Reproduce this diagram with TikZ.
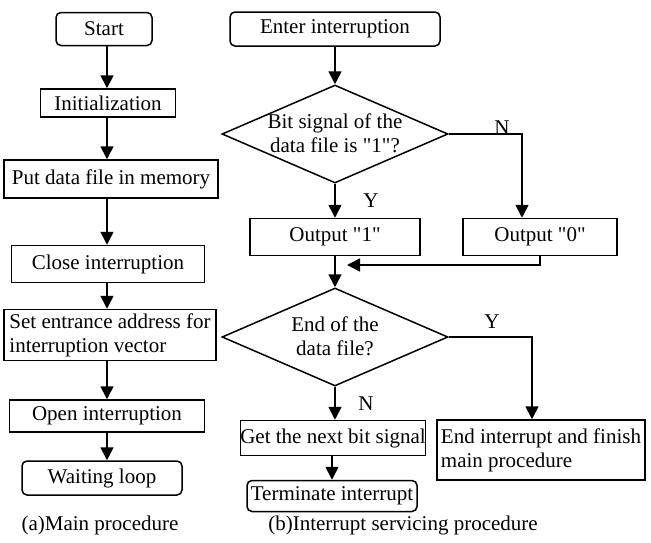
\documentclass[tikz,border=0pt]{standalone}
\usepackage{fontspec}
\setmainfont{Liberation Serif}[Ligatures=TeXOff]
\usetikzlibrary{shapes.geometric,arrows.meta}
\begin{document}
\begin{tikzpicture}[x=1pt,y=-1pt,
 every node/.style={font=\fontsize{21}{24}\selectfont},
 box/.style={draw, line width=1.5pt, inner sep=0pt, align=center},
 rbox/.style={box, rounded corners=5pt},
 dia/.style={draw, diamond, line width=1.5pt, inner sep=0pt},
 arr/.style={line width=1.7pt, -{Triangle[length=13pt,width=13pt]}},
 ln/.style={line width=1.7pt}]
\useasboundingbox (0,0) rectangle (651,542);
% left column
\coordinate (ax) at (107,0);
\node[rbox, minimum width=96, minimum height=33] (start) at (104,29) {Start};
\node[box, minimum width=135, minimum height=28] (init) at (108,103) {Initialization};
\node[box, minimum width=214, minimum height=38] (put) at (111,179) {Put data file in memory};
\node[box, minimum width=193, minimum height=37] (close) at (108,264) {Close interruption};
\node[box, minimum width=212, minimum height=51, align=left] (set) at (110,335) {Set entrance address for\\interruption vector};
\node[box, minimum width=195, minimum height=32] (open) at (107,416) {Open interruption};
\node[rbox, minimum width=160, minimum height=34] (wait) at (102,478) {Waiting loop};
\node (capa) at (100,525) {(a)Main procedure};
\draw[arr] (start.south -| ax) -- (init.north -| ax);
\draw[arr] (init.south -| ax) -- (put.north -| ax);
\draw[arr] (put.south -| ax) -- (close.north -| ax);
\draw[arr] (close.south -| ax) -- (set.north -| ax);
\draw[arr] (set.south -| ax) -- (open.north -| ax);
\draw[arr] (open.south -| ax) -- (wait.north -| ax);
% right column
\coordinate (bx) at (335,0);
\node[rbox, minimum width=210, minimum height=34] (enter) at (335,29) {Enter interruption};
\node[dia, minimum width=226, minimum height=98] (d1) at (335,134) {};
\node[align=center] (d1t) at (335,133) {Bit signal of the\\data file is "1"?};
\node[box, minimum width=170, minimum height=37] (out1) at (335,237) {Output "1"};
\node[box, minimum width=154, minimum height=37] (out0) at (540,237) {Output "0"};
\node[dia, minimum width=226, minimum height=98] (d2) at (335,337) {};
\node[align=center] (d2t) at (335,336) {End of the\\data file?};
\node[box, minimum width=182, minimum height=35] (get) at (333,438) {Get the next bit signal};
\node[box, minimum width=208, minimum height=60, align=left] (endi) at (541,450) {End interrupt and finish\\main procedure};
\node[rbox, minimum width=170, minimum height=31] (term) at (332,496) {Terminate interrupt};
\node (capb) at (403,525) {(b)Interrupt servicing procedure};
\node (n1) at (502,128) {N};
\node (y1) at (371,201) {Y};
\node (y2) at (492,322) {Y};
\node (n2) at (366,404) {N};
\coordinate (m) at (335,265);
\draw[arr] (enter.south -| bx) -- (d1.north);
\draw[arr] (d1.south) -- (out1.north -| bx);
\draw[arr] (d1.east) -| ([xshift=-18pt]out0.north);
\draw[arr] (out1.south -| bx) -- (d2.north);
\draw[arr] (out0.south) |- ([xshift=12pt]m);
\draw[arr] (d2.south) -- (get.north -| bx);
\draw[arr] (d2.east) -| ([xshift=-9pt]endi.north);
\draw[arr] (get.south -| term) -- (term.north);
\end{tikzpicture}
\end{document}
